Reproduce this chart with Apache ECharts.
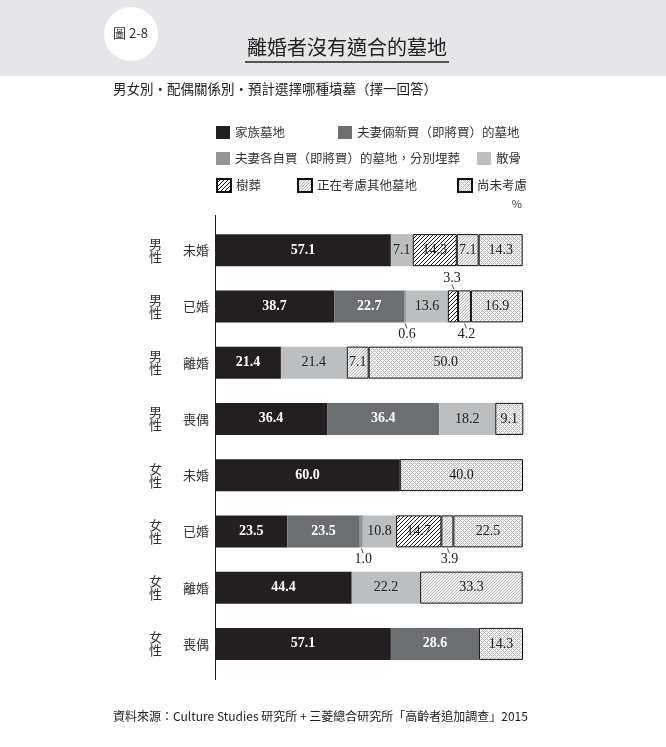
<!DOCTYPE html>
<html><head><meta charset="utf-8">
<script src="https://cdn.jsdelivr.net/npm/echarts@6/dist/echarts.min.js"></script>
<style>html,body{margin:0;padding:0;background:#fff}#c{width:666px;height:747px}</style>
</head><body><div id="c"></div>
<script>
// ---- data ----
const statuses = ['未婚','已婚','離婚','喪偶','未婚','已婚','離婚','喪偶'];
const genders  = ['男性','男性','男性','男性','女性','女性','女性','女性'];
const seriesNames = ['家族墓地','夫妻倆新買（即將買）的墓地','夫妻各自買（即將買）的墓地，分別埋葬','散骨','樹葬','正在考慮其他墓地','尚未考慮'];
const familyGrave   = [57.1, 38.7, 21.4, 36.4, 60.0, 23.5, 44.4, 57.1];
const coupleNew     = [0,    22.7, 0,    36.4, 0,    23.5, 0,    28.6];
const separateGrave = [0,    0.6,  0,    0,    0,    1.0,  0,    0];
const scattering    = [7.1,  13.6, 21.4, 18.2, 0,    10.8, 22.2, 0];
const treeBurial    = [14.3, 3.3,  0,    0,    0,    14.7, 0,    0];
const otherGrave    = [7.1,  4.2,  7.1,  0,    0,    3.9,  33.3, 0];
const undecided     = [14.3, 16.9, 50.0, 9.1,  40.0, 22.5, 0,    14.3];
const allValues = [familyGrave, coupleNew, separateGrave, scattering, treeBurial, otherGrave, undecided];

// ---- patterns (pixel-precise tiles) ----
function tile(s, bg, fg, test) {
  const c = document.createElement('canvas'); c.width = s; c.height = s;
  const g = c.getContext('2d'); g.fillStyle = bg; g.fillRect(0,0,s,s);
  g.fillStyle = fg;
  for (let y = 0; y < s; y++) for (let x = 0; x < s; x++) if (test(x, y, s)) g.fillRect(x, y, 1, 1);
  return {image: c, repeat: 'repeat'};
}
const slash = (x, y, s) => (x + y) % s === s - 1;
const styles = [
  {color:'#231f20', border:false, text:'#fff', bold:true},
  {color:'#6d6e71', border:false, text:'#fff', bold:true},
  {color:'#939598', border:false, text:'#222', bold:false},
  {color:'#bcbec0', border:false, text:'#222', bold:false},
  {color:tile(4,'#ffffff','#1a1a1a',slash), border:true, text:'#222', bold:false},
  {color:tile(3,'#f4f4f4','#b4b4b4',slash), border:true, text:'#222', bold:false},
  {color:tile(4,'#f6f6f6','#b8b8b8',(x,y,s)=>((x+y)%4===0)||((x-y+4)%4===0)), border:true, text:'#222', bold:false}
];
const calloutAboveSeries = [4];

const X0 = 215, BAR_H = 32;
const serif = '"Liberation Serif","DejaVu Serif",serif';
const cjk = '"Noto Sans CJK TC","Noto Sans",sans-serif';

const series = allValues.map((vals, si) => ({
  name: seriesNames[si], type: 'bar', stack: 'total', barWidth: BAR_H,
  yAxisIndex: 0,
  data: vals.map(v => v === 0 ? '-' : v),
  itemStyle: {color: styles[si].color, borderColor: styles[si].border ? '#111' : 'transparent', borderWidth: styles[si].border ? 1 : 0},
  label: {show: true, position: 'inside', color: styles[si].text, fontFamily: serif, fontSize: 14,
    fontWeight: styles[si].bold ? 'bold' : 'normal',
    formatter: p => (typeof p.value === 'number' && p.value >= 5) ? p.value.toFixed(1) : ''},
  emphasis: {disabled: true}
}));

// callouts for small segments
const callouts = [];
for (let ci = 0; ci < statuses.length; ci++) {
  let cum = 0;
  allValues.forEach((vals, si) => {
    const v = vals[ci];
    if (v > 0 && v < 5) callouts.push([cum + v / 2, ci, v, calloutAboveSeries.includes(si) ? -1 : 1]);
    cum += v;
  });
}
series.push({
  type: 'custom', yAxisIndex: 0, clip: false, silent: true, z: 10,
  encode: {x: 0, y: 1},
  data: callouts,
  renderItem: (params, api) => {
    const p = api.coord([api.value(0), api.value(1)]);
    const side = api.value(3), v = api.value(2);
    const edge = p[1] + side * BAR_H / 2;
    const x1 = side > 0 ? p[0] : p[0] + 1, x2 = side > 0 ? p[0] + 2 : p[0] - 1;
    return {type: 'group', children: [
      {type: 'line', shape: {x1: x1, y1: edge + side, x2: x2, y2: edge + side * 6}, style: {stroke: '#222', lineWidth: 0.8}},
      {type: 'text', style: {text: v.toFixed(1), x: x2, y: edge + side * 12, align: 'center', verticalAlign: 'middle', font: '14px ' + serif, fill: '#222'}}
    ]};
  }
});

// legends
const legendPos = [[216,133],[338,133],[216,159],[477,159],[216,185],[297,185],[457,185]];
const legends = seriesNames.map((n, i) => ({
  data: [n], left: legendPos[i][0], top: legendPos[i][1] - 7, padding: 0,
  itemWidth: 14, itemHeight: 13, icon: 'rect', selectedMode: false,
  textStyle: {fontFamily: cjk, fontSize: 12.5, color: '#333'}
}));

const chart = echarts.init(document.getElementById('c'), null, {renderer: 'canvas'});
chart.setOption({
  animation: false,
  backgroundColor: '#fff',
  legend: legends,
  grid: {left: X0, right: 143, top: 222, bottom: 75},
  xAxis: {type: 'value', min: 0, max: 100, show: false},
  yAxis: [
    {type: 'category', data: statuses, inverse: true,
      axisLine: {show: false},
      axisTick: {length: 65, lineStyle: {color: '#222', width: 1}},
      axisLabel: {margin: 6, fontFamily: cjk, fontSize: 13, color: '#333'}},
    {type: 'category', data: genders, inverse: true, position: 'left',
      axisLine: {show: false}, axisTick: {show: false},
      axisLabel: {margin: 53, fontFamily: cjk, fontSize: 13, color: '#333', lineHeight: 13,
        formatter: v => v.split('').join('\n')}}
  ],
  graphic: [
    {type: 'rect', shape: {x: 0, y: 0, width: 666, height: 76}, style: {fill: '#e6e6e8'}, z: -1},
    {type: 'circle', shape: {cx: 131, cy: 34, r: 27}, style: {fill: '#fff'}},
    {type: 'text', style: {text: '圖 2-8', x: 113, y: 33, verticalAlign: 'middle', font: '13px ' + cjk, fill: '#333'}},
    {type: 'text', style: {text: '離婚者沒有適合的墓地', x: 347, y: 47, align: 'center', verticalAlign: 'middle', font: '20px ' + cjk, fill: '#222'}},
    {type: 'line', shape: {x1: 245, y1: 62, x2: 449, y2: 62}, style: {stroke: '#222', lineWidth: 1.5}},
    {type: 'text', style: {text: '男女別・配偶關係別・預計選擇哪種墳墓（擇一回答）', x: 113, y: 89, verticalAlign: 'middle', font: '13.5px ' + cjk, fill: '#222'}},
    {type: 'text', style: {text: '%', x: 522, y: 204, align: 'right', verticalAlign: 'middle', font: '11px ' + cjk, fill: '#333'}},
    {type: 'line', shape: {x1: 215.5, y1: 215, x2: 215.5, y2: 680}, style: {stroke: '#222', lineWidth: 1}, z: 5},
    {type: 'text', style: {text: '資料來源：Culture Studies 研究所 + 三菱總合研究所「高齡者追加調查」2015', x: 113, y: 716, verticalAlign: 'middle', font: '12px ' + cjk, fill: '#222'}}
  ],
  series: series
});
</script></body></html>
